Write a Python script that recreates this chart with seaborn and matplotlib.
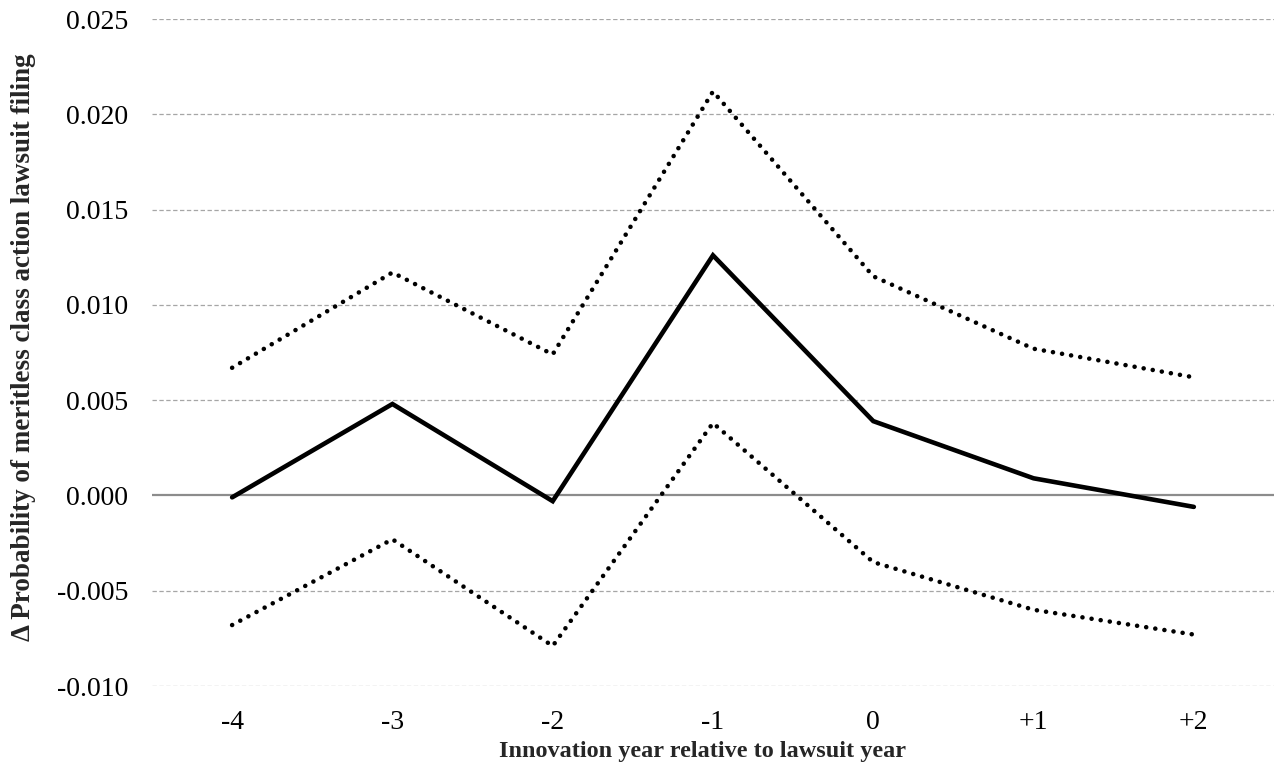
import matplotlib
matplotlib.use("Agg")
import matplotlib.pyplot as plt
import seaborn as sns
import pandas as pd
import numpy as np

# Data
years = ["-4", "-3", "-2", "-1", "0", "+1", "+2"]
estimate = [-0.0001, 0.0048, -0.0003, 0.0126, 0.0039, 0.0009, -0.0006]
upper_ci = [0.0067, 0.0117, 0.0074, 0.0212, 0.0115, 0.0077, 0.0062]
lower_ci = [-0.0068, -0.0023, -0.0079, 0.0038, -0.0035, -0.0060, -0.0073]
yticks = [-0.010, -0.005, 0.000, 0.005, 0.010, 0.015, 0.020, 0.025]

sns.set_theme(style="white")
plt.rcParams["font.family"] = ["Liberation Serif", "DejaVu Serif"]

df = pd.DataFrame({"pos": np.arange(len(years)), "est": estimate,
                   "hi": upper_ci, "lo": lower_ci})

fig = plt.figure(figsize=(12.75, 7.77), dpi=100)
ax = fig.add_axes([0.1192, 0.1171, 0.880, 0.8584])

for v in yticks:
    if v == 0:
        ax.axhline(v, color="#8c8c8c", lw=1.6, zorder=1)
    else:
        ax.axhline(v, color="#a6a6a6", lw=0.9, ls=(0, (3.5, 2)), zorder=1)

sns.lineplot(data=df, x="pos", y="est", ax=ax, color="black", lw=3.3,
             solid_joinstyle="miter", zorder=3)
for col in ["hi", "lo"]:
    sns.lineplot(data=df, x="pos", y=col, ax=ax, color="black", lw=3.3,
                 ls=(0, (0.01, 2.0)), dash_capstyle="round", zorder=3)

ax.set_xlim(-0.5, len(years) - 0.5)
ax.set_ylim(-0.010, 0.025)
ax.set_xticks(df["pos"])
ax.set_xticklabels(years)
ax.set_yticks(yticks)
ax.set_yticklabels([f"{v:.3f}" for v in yticks])
ax.tick_params(axis="both", labelsize=20, length=0, colors="black")
ax.tick_params(axis="x", pad=17)
ax.tick_params(axis="y", pad=17)
for s in ax.spines.values():
    s.set_visible(False)
ax.grid(False)

ax.set_xlabel("Innovation year relative to lawsuit year", fontsize=17.5,
              fontweight="bold")
ax.xaxis.set_label_coords(0.491, -0.082)
ax.set_ylabel("Δ Probability of meritless class action lawsuit filing",
              fontsize=19.5, fontweight="bold")
ax.yaxis.set_label_coords(-0.1035, 0.508)

fig.savefig("out.png", dpi=100)
